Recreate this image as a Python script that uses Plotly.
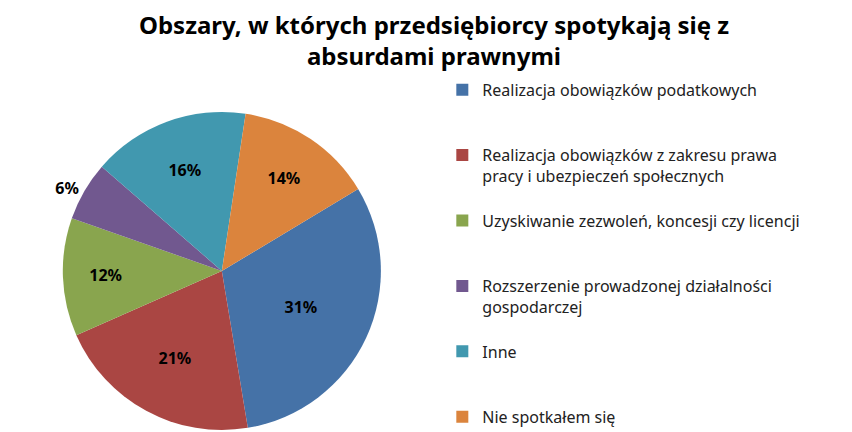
import plotly.graph_objects as go

categories = [
    "Realizacja obowiązków podatkowych",
    "Realizacja obowiązków z zakresu prawa<br>pracy i ubezpieczeń społecznych",
    "Uzyskiwanie zezwoleń, koncesji czy licencji",
    "Rozszerzenie prowadzonej działalności<br>gospodarczej",
    "Inne",
    "Nie spotkałem się",
]
shares = [31, 21, 12, 6, 16, 14]
colors = ["#4572A7", "#AA4643", "#89A54E", "#71588F", "#4198AF", "#DB843D"]

# pad legend entries to roughly three lines each, like the Excel legend
legend_labels = []
for i, c in enumerate(categories):
    pad = 0 if i == len(categories) - 1 else 2 - c.count("<br>")
    legend_labels.append(c + "<br> " * pad)

fig = go.Figure(
    go.Pie(
        labels=legend_labels,
        values=shares,
        sort=False,
        direction="clockwise",
        rotation=59,
        marker=dict(colors=colors, line=dict(color="white", width=0)),
        texttemplate="%{value}%",
        textposition=["inside", "inside", "inside", "outside", "inside", "inside"],
        insidetextorientation="horizontal",
        textfont=dict(family="Noto Sans", size=16, color="black", weight="bold"),
        domain=dict(x=[0.0, 0.49], y=[0.0, 0.93]),
        hoverinfo="label+percent",
    )
)

fig.update_layout(
    width=852,
    height=432,
    paper_bgcolor="white",
    plot_bgcolor="white",
    margin=dict(l=10, r=10, t=80, b=10, autoexpand=False),
    title=dict(
        text="<b>Obszary, w których przedsiębiorcy spotykają się z<br>absurdami prawnymi</b>",
        x=0.5,
        xanchor="center",
        y=0.94,
        yref="container",
        yanchor="middle",
        font=dict(family="Noto Sans", size=24, color="black"),
    ),
    legend=dict(
        x=0.51,
        xanchor="left",
        y=0.85,
        yref="container",
        yanchor="top",
        valign="top",
        maxheight=1,
        font=dict(family="Noto Sans", size=16, color="#222222"),
        itemclick=False,
    ),
)

fig.write_html("out.html")
